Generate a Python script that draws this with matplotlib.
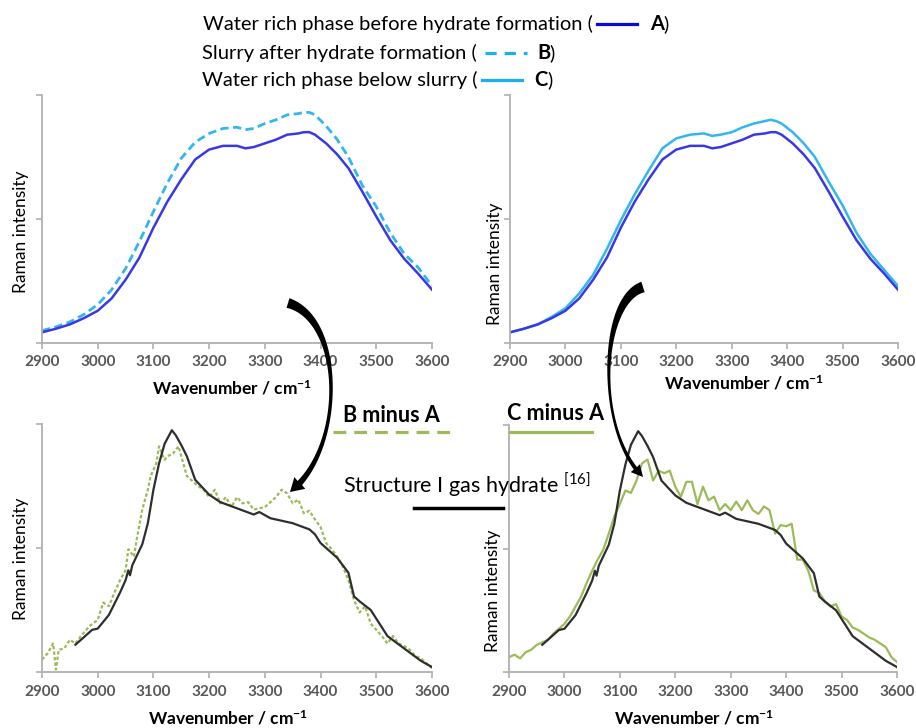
import numpy as np
import matplotlib
matplotlib.use("Agg")
import matplotlib.pyplot as plt
from matplotlib.lines import Line2D
from matplotlib.patches import Polygon
from matplotlib.transforms import Affine2D

plt.rcParams['font.family'] = ['Lato', 'DejaVu Sans']
plt.rcParams['mathtext.fontset'] = 'custom'
plt.rcParams['mathtext.rm'] = 'Lato'
plt.rcParams['mathtext.bf'] = 'Lato:bold'
plt.rcParams['mathtext.it'] = 'Lato:italic'
plt.rcParams['mathtext.default'] = 'regular'

# --- spectra (normalised, axis 0..2) ---
wn_top = [2900, 2925, 2950, 2975, 3000, 3025, 3050, 3075, 3100, 3125, 3150, 3175, 3200, 3225, 3250,
          3265, 3280, 3300, 3320, 3340, 3360, 3370, 3380, 3390, 3410, 3430, 3450, 3475, 3500, 3525,
          3550, 3575, 3600]
spec_a = [0.086, 0.115, 0.15, 0.20, 0.26, 0.36, 0.51, 0.69, 0.93, 1.14, 1.32, 1.48, 1.56, 1.59, 1.59,
          1.57, 1.58, 1.61, 1.64, 1.68, 1.69, 1.70, 1.70, 1.68, 1.61, 1.52, 1.41, 1.22, 1.02, 0.83,
          0.68, 0.56, 0.43]
spec_b = [0.10, 0.13, 0.17, 0.23, 0.31, 0.43, 0.60, 0.82, 1.06, 1.29, 1.49, 1.62, 1.69, 1.73, 1.74,
          1.72, 1.73, 1.77, 1.80, 1.84, 1.85, 1.86, 1.86, 1.84, 1.75, 1.64, 1.50, 1.27, 1.10, 0.89,
          0.72, 0.61, 0.46]
spec_c = [0.086, 0.115, 0.15, 0.21, 0.28, 0.40, 0.55, 0.76, 0.99, 1.20, 1.39, 1.57, 1.65, 1.68, 1.69,
          1.67, 1.68, 1.70, 1.74, 1.77, 1.79, 1.80, 1.79, 1.77, 1.70, 1.61, 1.50, 1.30, 1.11, 0.89,
          0.72, 0.59, 0.46]

# structure I gas hydrate reference spectrum
wn_ref = [2960, 2970, 2990, 3000, 3020, 3040, 3050, 3055, 3058, 3062, 3080, 3090, 3100, 3110, 3120,
          3133, 3140, 3150, 3160, 3175, 3200, 3220, 3250, 3280, 3290, 3310, 3350, 3380, 3390, 3400,
          3430, 3450, 3460, 3470, 3490, 3500, 3520, 3550, 3580, 3600]
spec_ref = [0.22, 0.26, 0.34, 0.35, 0.46, 0.64, 0.74, 0.82, 0.78, 0.86, 1.03, 1.20, 1.47, 1.68, 1.84,
            1.95, 1.91, 1.83, 1.74, 1.55, 1.43, 1.37, 1.32, 1.27, 1.29, 1.24, 1.20, 1.15, 1.11, 1.04,
            0.92, 0.80, 0.61, 0.57, 0.50, 0.43, 0.29, 0.19, 0.09, 0.04]

# difference spectra
wn_ba = [2900, 2910, 2920, 2925, 2930, 2940, 2950, 2960, 2970, 2985, 3000, 3010, 3020, 3030, 3040,
         3050, 3055, 3065, 3070, 3080, 3090, 3095, 3105, 3110, 3120, 3125, 3135, 3145, 3150, 3160,
         3170, 3180, 3190, 3200, 3210, 3220, 3230, 3240, 3250, 3260, 3270, 3280, 3290, 3300, 3310,
         3320, 3330, 3340, 3350, 3360, 3370, 3380, 3390, 3400, 3410, 3420, 3430, 3440, 3450, 3460,
         3470, 3480, 3490, 3500, 3510, 3520, 3530, 3540, 3550, 3560, 3570, 3580, 3590, 3600]
spec_ba = [0.10, 0.15, 0.23, 0.02, 0.18, 0.19, 0.26, 0.23, 0.29, 0.37, 0.42, 0.56, 0.53, 0.64, 0.74,
           0.82, 0.99, 0.93, 1.07, 1.31, 1.47, 1.58, 1.68, 1.82, 1.71, 1.74, 1.76, 1.82, 1.74, 1.58,
           1.54, 1.50, 1.47, 1.41, 1.47, 1.36, 1.41, 1.33, 1.41, 1.36, 1.37, 1.31, 1.32, 1.33, 1.37,
           1.41, 1.47, 1.44, 1.36, 1.39, 1.28, 1.30, 1.23, 1.17, 1.04, 0.99, 0.93, 0.85, 0.74, 0.58,
           0.48, 0.53, 0.39, 0.34, 0.29, 0.23, 0.29, 0.23, 0.21, 0.18, 0.13, 0.11, 0.07, 0.03]

wn_ca = list(range(2900, 3610, 10))
spec_ca = [0.12, 0.14, 0.11, 0.16, 0.18, 0.22, 0.24, 0.26, 0.31, 0.35, 0.39, 0.45, 0.53, 0.61, 0.72,
           0.82, 0.91, 0.99, 1.12, 1.26, 1.36, 1.47, 1.45, 1.55, 1.69, 1.72, 1.55, 1.63, 1.61, 1.63,
           1.50, 1.42, 1.54, 1.54, 1.36, 1.50, 1.39, 1.42, 1.31, 1.36, 1.31, 1.38, 1.31, 1.39, 1.31,
           1.28, 1.34, 1.31, 1.12, 1.19, 1.18, 1.20, 0.91, 0.91, 0.82, 0.66, 0.64, 0.57, 0.53, 0.55,
           0.45, 0.42, 0.36, 0.34, 0.31, 0.28, 0.26, 0.23, 0.20, 0.12, 0.08]

x_ticks = [2900, 3000, 3100, 3200, 3300, 3400, 3500, 3600]

BLUE_A = '#3838e6'
BLUE_B = '#33b6ee'
GREEN = '#9bbb59'
GREY = '#b0b0b0'

W, H = 916, 728
fig = plt.figure(figsize=(W / 100, H / 100), dpi=100)
px = Affine2D().scale(1 / W, -1 / H).translate(0, 1) + fig.transFigure


def make_axes(left, top, right, bottom):
    ax = fig.add_axes([left / W, 1 - bottom / H, (right - left) / W, (bottom - top) / H])
    ax.set_xlim(2900, 3600)
    ax.set_ylim(0, 2)
    ax.set_xticks(x_ticks)
    ax.set_yticks([0, 1, 2])
    ax.set_yticklabels([])
    for side in ['top', 'right']:
        ax.spines[side].set_visible(False)
    for side in ['left', 'bottom']:
        ax.spines[side].set_color(GREY)
        ax.spines[side].set_linewidth(1.3)
    ax.tick_params(axis='both', direction='out', length=4, width=1.2, color=GREY)
    ax.tick_params(axis='x', pad=5, labelsize=11, labelcolor='#595959')
    for lbl in ax.get_xticklabels():
        lbl.set_fontweight('bold')
    ax.set_xlabel(r'Wavenumber / cm$^{\mathbf{-1}}$', fontsize=12.5, fontweight='bold')
    ax.set_ylabel('Raman intensity', fontsize=12.5)
    ax.xaxis.label.set_va('center')
    ax.yaxis.label.set_va('center')
    ax.patch.set_alpha(0)
    return ax


ax1 = make_axes(42, 95, 432, 343)
ax1.plot(wn_top, spec_b, color=BLUE_B, lw=2, ls=(0, (3, 1.6)))
ax1.plot(wn_top, spec_a, color=BLUE_A, lw=1.8)
ax1.xaxis.set_label_coords(0.487, -0.181)
ax1.yaxis.set_label_coords(-0.055, 0.448)

ax2 = make_axes(510, 95, 898, 343)
ax2.plot(wn_top, spec_c, color=BLUE_B, lw=1.8)
ax2.plot(wn_top, spec_a, color=BLUE_A, lw=1.8)
ax2.xaxis.set_label_coords(0.603, -0.161)
ax2.yaxis.set_label_coords(-0.038, 0.319)

ax3 = make_axes(42, 424, 432, 672)
ax3.plot(wn_ba, spec_ba, color=GREEN, lw=1.6, ls=(0, (1.5, 1)))
ax3.plot(wn_ref, spec_ref, color='#2e2e2e', lw=1.6)
ax3.xaxis.set_label_coords(0.477, -0.188)
ax3.yaxis.set_label_coords(-0.055, 0.456)

ax4 = make_axes(509, 425, 897, 672)
ax4.plot(wn_ca, spec_ca, color=GREEN, lw=1.6)
ax4.plot(wn_ref, spec_ref, color='#2e2e2e', lw=1.6)
ax4.xaxis.set_label_coords(0.478, -0.188)
ax4.yaxis.set_label_coords(-0.041, 0.328)


# --- legend block at the top ---
def txt(x, y, s, **kw):
    kw.setdefault('fontsize', 14.5)
    kw.setdefault('va', 'center')
    fig.text(x, y, s, transform=px, **kw)


def seg(x0, x1, y, **kw):
    fig.add_artist(Line2D([x0, x1], [y, y], transform=px, **kw))


txt(593, 24, 'Water rich phase before hydrate formation (', ha='right')
seg(597, 637, 24, color='#0a0ad8', lw=2.3)
txt(650, 24, 'A', fontweight='bold')
txt(663, 24, ')')

txt(477, 53, 'Slurry after hydrate formation (', ha='right')
seg(485, 527, 53, color='#18b0ee', lw=2.3, ls=(0, (3.5, 2.5)))
txt(537, 53, 'B', fontweight='bold')
txt(549, 53, ')')

txt(477, 80, 'Water rich phase below slurry (', ha='right')
seg(482, 522, 80, color='#18b0ee', lw=2.3)
txt(534, 80, 'C', fontweight='bold')
txt(547, 80, ')')

# --- middle annotations ---
txt(343, 415, 'B minus A', fontweight='bold', fontsize=15.5)
seg(333, 450, 432, color=GREEN, lw=2.3, ls=(0, (4, 2.5)))
txt(507, 413, 'C minus A', fontweight='bold', fontsize=15.5)
seg(510, 592, 432, color=GREEN, lw=2.3)
txt(343, 485, r'Structure I gas hydrate $^{[16]}$', fontsize=15.5)
seg(414, 503, 508, color='black', lw=2.5)


def tapered_arrow(ctrl, w0, w1, w2, head_w, head_l):
    P = np.array(ctrl, float)
    t = np.linspace(0, 1, 300)[:, None]
    pts = (1 - t) ** 3 * P[0] + 3 * (1 - t) ** 2 * t * P[1] + 3 * (1 - t) * t ** 2 * P[2] + t ** 3 * P[3]
    s = np.concatenate([[0], np.cumsum(np.hypot(*np.diff(pts, axis=0).T))])
    k = np.searchsorted(s, s[-1] - head_l)
    body = pts[:k + 1]
    u = s[:k + 1] / s[k]
    w = w1 + (w0 - w1) * (1 - u) ** 3 + (w2 - w1) * u ** 3
    d = np.gradient(body, axis=0)
    d /= np.hypot(d[:, 0], d[:, 1])[:, None]
    n = np.column_stack([-d[:, 1], d[:, 0]])
    left = body + n * w[:, None] / 2
    right = body - n * w[:, None] / 2
    base, tip = body[-1], pts[-1]
    dv = (tip - base) / np.hypot(*(tip - base))
    nv = np.array([-dv[1], dv[0]])
    head = [base + nv * head_w / 2, tip, base - nv * head_w / 2]
    poly = np.vstack([left, head, right[::-1]])
    fig.add_artist(Polygon(poly, closed=True, transform=px, facecolor='black',
                           edgecolor='none', zorder=5))


tapered_arrow([(288, 303), (345, 320), (345, 450), (290, 492)], 10, 2, 6, 16, 14)
tapered_arrow([(643, 287), (600, 300), (595, 430), (643, 477)], 11, 1.5, 4, 12, 12)

fig.savefig('out.png', dpi=100)
